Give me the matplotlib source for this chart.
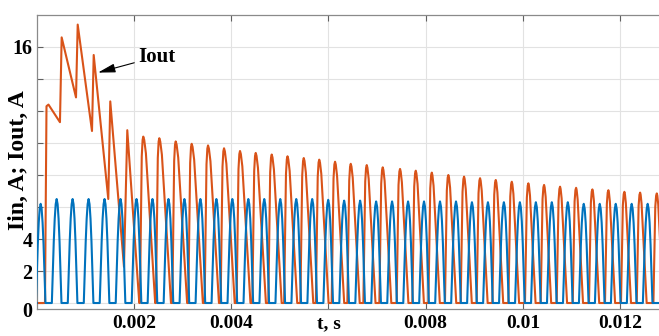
import matplotlib
matplotlib.use("Agg")
import matplotlib.pyplot as plt

# ---------------- data ----------------
# Iin (blue): peak time [s] and peak value [A] of every pulse
iin_peak_t = [0.000080, 0.000409, 0.000737, 0.001066, 0.001394, 0.001723, 0.002052,
              0.002380, 0.002709, 0.003037, 0.003366, 0.003695, 0.004023, 0.004352,
              0.004680, 0.005009, 0.005338, 0.005666, 0.005995, 0.006323, 0.006652,
              0.006981, 0.007309, 0.007638, 0.007966, 0.008295, 0.008624, 0.008952,
              0.009281, 0.009609, 0.009938, 0.010267, 0.010595, 0.010924, 0.011252,
              0.011581, 0.011910, 0.012238, 0.012567]
iin_peak_val = [6.2, 6.5, 6.5, 6.5, 6.5, 6.5, 6.5, 6.5, 6.5, 6.5, 6.5, 6.5, 6.5, 6.5,
                6.5, 6.5, 6.5, 6.5, 6.45, 6.4, 6.4, 6.35, 6.35, 6.35, 6.35, 6.35, 6.35,
                6.3, 6.3, 6.3, 6.3, 6.3, 6.3, 6.3, 6.2, 6.2, 6.2, 6.2, 6.2]
iin_pulse_width = 0.000198          # base width of one Iin pulse [s]
iin_shape_frac = [0.0, 0.1, 0.2, 0.3, 0.4, 0.5, 0.6, 0.7, 0.8, 0.9, 1.0]
iin_shape_val = [0.0, 0.31, 0.59, 0.81, 0.95, 1.0, 0.95, 0.81, 0.59, 0.31, 0.0]

# Iout (orange): start-up transient vertices
iout_trans_t = [0.0, 0.000169, 0.000200, 0.000241, 0.000477, 0.000512, 0.000807,
                0.000842, 0.001136, 0.001171, 0.001471, 0.001512, 0.001794, 0.001862,
                0.002109]
iout_trans_val = [0.0, 0.0, 12.3, 12.4, 11.3, 16.6, 12.85, 17.4, 10.75, 15.5, 6.5,
                  12.6, 2.27, 10.8, 0.0]
# Iout (orange): discontinuous pulses after the transient
iout_peak_t = [0.002191, 0.002521, 0.002858, 0.003187, 0.003523, 0.003852, 0.004181,
               0.004504, 0.004833, 0.005158, 0.005492, 0.005811, 0.006136, 0.006459,
               0.006788, 0.007117, 0.007473, 0.007796, 0.008126, 0.008467, 0.008790,
               0.009119, 0.009442, 0.009772, 0.010113, 0.010436, 0.010765, 0.011095,
               0.011430, 0.011759, 0.012088, 0.012412, 0.012755]
iout_peak_val = [10.4, 10.3, 10.1, 9.95, 9.85, 9.67, 9.5, 9.38, 9.28, 9.17, 9.06, 8.96,
                 8.83, 8.7, 8.62, 8.48, 8.38, 8.27, 8.15, 8.0, 7.9, 7.8, 7.69, 7.58,
                 7.48, 7.38, 7.27, 7.2, 7.1, 7.05, 6.95, 6.9, 6.85]
iout_fall_ms = [0.245, 0.24, 0.235, 0.23, 0.225, 0.22, 0.215, 0.21, 0.205, 0.2, 0.196,
                0.192, 0.188, 0.184, 0.18, 0.176, 0.172, 0.168, 0.165, 0.162, 0.159,
                0.156, 0.153, 0.15, 0.148, 0.146, 0.144, 0.142, 0.14, 0.138, 0.136,
                0.134, 0.132]
iout_rise = 0.00007
iout_rise_shape_t = [0.0, 0.55, 0.8, 1.0]
iout_rise_shape_v = [0.0, 0.88, 0.98, 1.0]
iout_fall_shape_t = [0.0, 0.08, 0.22, 1.0]
iout_fall_shape_v = [1.0, 0.98, 0.9, 0.0]

x_ticks = [0.002, 0.004, 0.006, 0.008, 0.010, 0.012]
x_tick_labels = ["0.002", "0.004", "t, s", "0.008", "0.01", "0.012"]
y_ticks = [0, 2, 4, 6, 8, 10, 12, 14, 16]
y_tick_labels = ["", "2", "4", "", "", "", "", "", "16"]
x_max = 0.0128
y_min, y_max = -0.344, 18.0

BLUE = "#0072BD"
ORANGE = "#D95319"

# ---------------- build polylines ----------------
bx, by = [0.0], [0.0]
for tp, v in zip(iin_peak_t, iin_peak_val):
    t0 = tp - iin_pulse_width / 2
    for f, s in zip(iin_shape_frac, iin_shape_val):
        bx.append(t0 + f * iin_pulse_width)
        by.append(s * v)
bx.append(x_max)
by.append(0.0)

ox, oy = list(iout_trans_t), list(iout_trans_val)
for k, (tp, v, fall) in enumerate(zip(iout_peak_t, iout_peak_val, iout_fall_ms)):
    fall = fall * 1e-3
    ts = tp - iout_rise
    for f, s in zip(iout_rise_shape_t, iout_rise_shape_v):
        ox.append(ts + f * iout_rise)
        oy.append(s * v)
    for f, s in zip(iout_fall_shape_t[1:], iout_fall_shape_v[1:]):
        ox.append(tp + f * fall)
        oy.append(s * v)
    if k + 1 < len(iout_peak_t):
        ox.append(iout_peak_t[k + 1] - iout_rise)
        oy.append(0.0)

# ---------------- figure ----------------
plt.rcParams["font.family"] = ["Liberation Serif", "DejaVu Serif"]
plt.rcParams["font.weight"] = "bold"
fig = plt.figure(figsize=(6.59, 3.36), dpi=100)
ax = fig.add_axes([0.0558, 0.0818, 0.9442, 0.8736])

ax.plot(ox, oy, color=ORANGE, lw=1.5, zorder=3, solid_joinstyle="round")
ax.plot(bx, by, color=BLUE, lw=1.5, zorder=4, solid_joinstyle="round")

ax.set_xlim(0, x_max)
ax.set_ylim(y_min, y_max)
ax.set_xticks(x_ticks)
ax.set_xticklabels(x_tick_labels, fontsize=14, fontweight="bold")
ax.set_yticks(y_ticks)
ax.set_yticklabels(y_tick_labels, fontsize=14.5, fontweight="bold")
ax.text(-0.008, -0.56, "0", transform=ax.get_yaxis_transform(), ha="right",
        va="center", fontsize=14.5, fontweight="bold")

ax.grid(True, color="#e2e2e2", lw=0.8)
ax.set_axisbelow(True)
for side in ["left", "top", "bottom"]:
    ax.spines[side].set_color("#8a8a8a")
    ax.spines[side].set_linewidth(0.9)
ax.spines["right"].set_visible(False)
ax.tick_params(direction="in", length=4, width=0.8, color="#606060",
               top=True, pad=3)
ax.tick_params(axis="x", pad=4.5)

fig.text(18 / 659, 0.522, "Iin, A; Iout, A", rotation=90, ha="center", va="center",
         fontsize=17, fontweight="bold")

ax.annotate("Iout", xy=(0.00126, 14.4), xytext=(0.00209, 15.4),
            ha="left", va="center", fontsize=15, fontweight="bold",
            arrowprops=dict(arrowstyle="-|>,head_length=0.7,head_width=0.18",
                            color="black", lw=0.8, shrinkA=1, shrinkB=0))

fig.savefig("out.png", dpi=100)
